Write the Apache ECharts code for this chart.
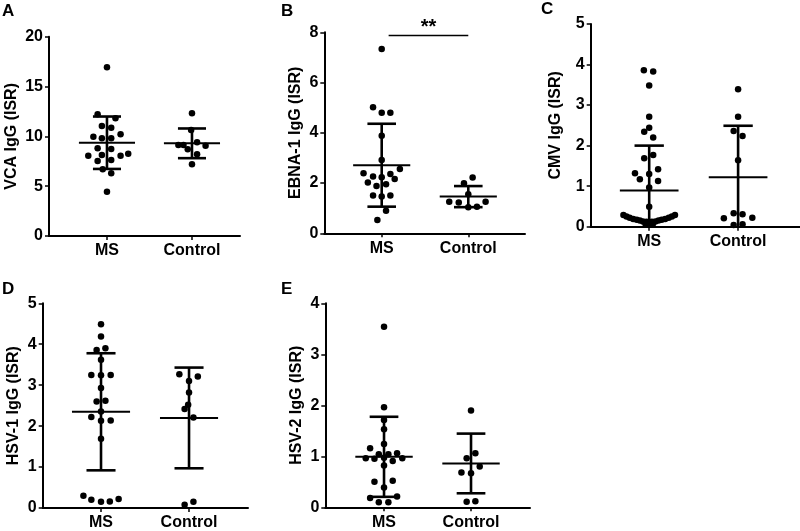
<!DOCTYPE html>
<html><head><meta charset="utf-8">
<script src="https://cdn.jsdelivr.net/npm/echarts@6/dist/echarts.min.js"></script>
<style>html,body{margin:0;padding:0;background:#fff}#c{width:800px;height:531px}</style>
</head><body><div id="c"></div>
<script>
// ---- data ----
const groups = ['MS', 'Control'];
const panelLetters = ['A', 'B', 'C', 'D', 'E'];
const yNames = ['VCA IgG (ISR)', 'EBNA-1 IgG (ISR)', 'CMV IgG (ISR)', 'HSV-1 IgG (ISR)', 'HSV-2 IgG (ISR)'];
const yMax = [20, 8, 5, 5, 4];
const yInterval = [5, 2, 1, 1, 1];

// A: VCA
const vcaMS = [16.93, 12.21, 11.81, 11.04, 10.87, 9.97, 9.80, 9.80, 10.2, 8.80, 8.73, 8.06, 8.13, 8.06, 8.26, 7.53, 7.63, 6.69, 6.29, 4.45];
const vcaMSJit = [0, -0.11, 0.10, -0.06, 0.05, -0.16, -0.06, 0.05, 0.16, -0.11, 0.05, -0.22, -0.06, 0.16, 0.25, -0.11, 0.05, -0.05, 0.05, 0];
const vcaCtl = [12.31, 10.64, 9.13, 9.13, 9.40, 8.70, 9.06, 8.20, 7.19];
const vcaCtlJit = [0, -0.01, -0.16, -0.10, 0.06, -0.05, 0.16, 0.06, 0];
const vcaMean = [9.36, 9.30];
const vcaSD = [2.63, 1.49];

// B: EBNA-1
const ebnaMS = [7.34, 5.02, 4.80, 4.80, 3.88, 2.92, 2.56, 2.39, 2.26, 2.23, 2.36, 2.16, 2.02, 1.88, 1.95, 1.50, 1.46, 1.50, 0.90, 0.53];
const ebnaMSJit = [0, -0.10, 0, 0.10, 0, 0, 0.21, -0.21, -0.10, 0, 0.10, 0.15, -0.16, -0.06, 0.05, -0.10, 0, 0.10, 0.05, -0.05];
const ebnaCtl = [2.22, 1.99, 1.55, 1.26, 1.23, 1.26, 1.06, 1.04];
const ebnaCtlJit = [0.05, -0.05, 0, -0.22, -0.11, 0.20, 0.10, 0];
const ebnaMean = [2.71, 1.46];
const ebnaSD = [1.65, 0.42];

// C: CMV
const cmvMS = [3.86, 3.83, 3.48, 2.71, 2.44, 2.34, 2.20, 1.77, 1.69, 1.42, 1.32, 1.17, 1.30, 1.13, 0.97, 0.49,
  0.29, 0.25, 0.22, 0.19, 0.17, 0.15, 0.13, 0.12, 0.10, 0.12, 0.13, 0.15, 0.17, 0.19, 0.22, 0.25, 0.29, 0.06, 0.06];
const cmvMSJit = [-0.06, 0.045, 0, 0, 0, -0.056, 0.045, 0.045, -0.056, 0.10, -0.16, -0.105, 0, 0.10, 0, 0,
  -0.29, -0.255, -0.22, -0.18, -0.14, -0.105, -0.07, -0.03, 0, 0.03, 0.07, 0.105, 0.14, 0.18, 0.22, 0.255, 0.29, -0.04, 0.04];
const cmvCtl = [3.39, 2.71, 2.36, 2.24, 1.64, 0.33, 0.31, 0.21, 0.22, 0.04, 0.06];
const cmvCtlJit = [0, 0, -0.05, 0.05, 0, -0.05, 0.05, -0.16, 0.16, -0.05, 0.05];
const cmvMean = [0.89, 1.22];
const cmvSD = [1.11, 1.27];

// D: HSV-1
const hsv1MS = [4.49, 4.19, 3.86, 3.90, 3.62, 3.25, 3.24, 3.25, 2.93, 2.60, 2.62, 2.36, 2.22, 2.13, 2.14, 1.69, 0.30, 0.20, 0.15, 0.16, 0.22];
const hsv1MSJit = [0, 0, -0.05, 0.05, 0, -0.11, 0, 0.11, 0, -0.05, 0.05, 0, -0.11, 0, 0.11, 0, -0.20, -0.11, 0, 0.10, 0.20];
const hsv1Ctl = [3.27, 3.21, 3.10, 2.82, 2.52, 2.42, 2.21, 0.08, 0.15];
const hsv1CtlJit = [-0.11, 0.10, 0, 0, -0.01, -0.05, 0.05, -0.05, 0.05];
const hsv1Mean = [2.35, 2.20];
const hsv1SD = [1.43, 1.23];

// E: HSV-2
const hsv2MS = [3.54, 1.96, 1.71, 1.53, 1.24, 1.16, 1.04, 1.04, 1.06, 0.96, 0.95, 0.97, 0.91, 0.96, 0.82, 0.50, 0.52, 0.39, 0.18, 0.21, 0.10, 0.10];
const hsv2MSJit = [0, 0, 0, 0, 0, -0.16, -0.06, 0.05, 0.15, -0.21, -0.11, 0, 0.10, 0.21, 0, -0.11, 0.10, 0, -0.16, 0.15, -0.06, 0.05];
const hsv2Ctl = [1.90, 1.06, 0.96, 0.80, 0.68, 0.67, 0.11, 0.12];
const hsv2CtlJit = [0, 0.05, -0.05, 0.10, -0.11, 0, -0.05, 0.05];
const hsv2Mean = [0.99, 0.86];
const hsv2SD = [0.785, 0.585];

// significance (panel B): from group 1 to group 2 at this height
const sigLabel = '**';
const sigSpan = [1.08, 2.0];
const sigY = 7.87;

// ---- layout ----
const layout = [
  { left: 49, top: 36.7, width: 191, height: 199.3, xMin: 0.318, xMax: 2.565, nameGap: 29 },
  { left: 324.3, top: 32.3, width: 200.7, height: 201, xMin: 0.337, xMax: 2.655, nameGap: 21 },
  { left: 590.7, top: 24, width: 209, height: 202.7, xMin: 0.342, xMax: 2.693, nameGap: 27 },
  { left: 42.7, top: 303.3, width: 205.3, height: 205, xMin: 0.3375, xMax: 2.67, nameGap: 21 },
  { left: 325.3, top: 303.3, width: 204.7, height: 204, xMin: 0.325, xMax: 2.678, nameGap: 21 }
];
const letterPos = [[2, 3], [281, 3], [541, 1], [2, 281], [281, 281]];

const panels = [
  [vcaMS, vcaMSJit, vcaCtl, vcaCtlJit, vcaMean, vcaSD],
  [ebnaMS, ebnaMSJit, ebnaCtl, ebnaCtlJit, ebnaMean, ebnaSD],
  [cmvMS, cmvMSJit, cmvCtl, cmvCtlJit, cmvMean, cmvSD],
  [hsv1MS, hsv1MSJit, hsv1Ctl, hsv1CtlJit, hsv1Mean, hsv1SD],
  [hsv2MS, hsv2MSJit, hsv2Ctl, hsv2CtlJit, hsv2Mean, hsv2SD]
];

const FONT = 'Liberation Sans, Arial, sans-serif';
const grid = [], xAxis = [], yAxis = [], series = [], graphic = [];

panels.forEach((p, i) => {
  const L = layout[i];
  grid.push({ left: L.left, top: L.top, width: L.width, height: L.height, containLabel: false });
  xAxis.push({
    type: 'value', gridIndex: i, min: L.xMin, max: L.xMax,
    axisLine: { show: true, lineStyle: { color: '#000', width: 2 } },
    axisTick: { show: true, customValues: [1, 2], length: 4, lineStyle: { color: '#000', width: 1.5 } },
    axisLabel: { show: true, customValues: [1, 2], formatter: v => groups[Math.round(v) - 1] || '',
      color: '#000', fontWeight: 'bold', fontSize: 16, fontFamily: FONT, margin: 7 },
    splitLine: { show: false }
  });
  yAxis.push({
    type: 'value', gridIndex: i, min: 0, max: yMax[i], interval: yInterval[i],
    name: yNames[i], nameLocation: 'middle', nameGap: L.nameGap, nameRotate: 90,
    nameTextStyle: { color: '#000', fontWeight: 'bold', fontSize: 16, fontFamily: FONT },
    axisLine: { show: true, lineStyle: { color: '#000', width: 2 } },
    axisTick: { show: true, length: 4, lineStyle: { color: '#000', width: 1.5 } },
    axisLabel: { color: '#000', fontWeight: 'bold', fontSize: 16, fontFamily: FONT, margin: 6 },
    splitLine: { show: false }
  });
  const [ms, msJ, ct, ctJ, mean, sd] = p;
  series.push({
    type: 'scatter', xAxisIndex: i, yAxisIndex: i, symbolSize: 6.5, itemStyle: { color: '#000', opacity: 1 },
    data: ms.map((v, k) => [1 + msJ[k], v]), z: 3
  });
  series.push({
    type: 'scatter', xAxisIndex: i, yAxisIndex: i, symbolSize: 6.5, itemStyle: { color: '#000', opacity: 1 },
    data: ct.map((v, k) => [2 + ctJ[k], v]), z: 3
  });
  series.push({
    type: 'custom', xAxisIndex: i, yAxisIndex: i, z: 4,
    data: mean.map((m, k) => [k + 1, m, sd[k]]),
    renderItem: (params, api) => {
      const x = api.value(0), m = api.value(1), s = api.value(2);
      const lo = Math.max(0, m - s), hi = m + s;
      const pl = api.coord([x - 0.33, m]), pr = api.coord([x + 0.33, m]);
      const ph = api.coord([x, hi]), plo = api.coord([x, lo]);
      const ch1 = api.coord([x - 0.165, hi]), ch2 = api.coord([x + 0.165, hi]);
      const children = [
        { type: 'line', shape: { x1: pl[0], y1: pl[1], x2: pr[0], y2: pr[1] }, style: { stroke: '#000', lineWidth: 2 } },
        { type: 'line', shape: { x1: ph[0], y1: ph[1], x2: plo[0], y2: plo[1] }, style: { stroke: '#000', lineWidth: 2.6 } },
        { type: 'line', shape: { x1: ch1[0], y1: ch1[1], x2: ch2[0], y2: ch2[1] }, style: { stroke: '#000', lineWidth: 2.6 } }
      ];
      if (m - s > 0) {
        const cl1 = api.coord([x - 0.165, m - s]), cl2 = api.coord([x + 0.165, m - s]);
        children.push({ type: 'line', shape: { x1: cl1[0], y1: cl1[1], x2: cl2[0], y2: cl2[1] }, style: { stroke: '#000', lineWidth: 2.6 } });
      }
      return { type: 'group', children };
    }
  });
  graphic.push({ type: 'text', left: letterPos[i][0], top: letterPos[i][1],
    style: { text: panelLetters[i], fill: '#000', font: 'bold 17px ' + FONT } });
});

// significance bar, panel B
series.push({
  type: 'custom', xAxisIndex: 1, yAxisIndex: 1, z: 5, clip: false,
  data: [[sigSpan[0], sigSpan[1], sigY]],
  renderItem: (params, api) => {
    const a = api.coord([api.value(0), api.value(2)]);
    const b = api.coord([api.value(1), api.value(2)]);
    return { type: 'group', children: [
      { type: 'line', shape: { x1: a[0], y1: a[1], x2: b[0], y2: b[1] }, style: { stroke: '#000', lineWidth: 1.5 } },
      { type: 'text', x: (a[0] + b[0]) / 2, y: a[1] + 2,
        style: { text: sigLabel, fill: '#000', font: 'bold 20px ' + FONT, textAlign: 'center', textVerticalAlign: 'bottom' } }
    ] };
  }
});

const chart = echarts.init(document.getElementById('c'), null, { renderer: 'canvas' });
chart.setOption({ backgroundColor: '#fff', animation: false, grid, xAxis, yAxis, series, graphic });
</script>
</body></html>
